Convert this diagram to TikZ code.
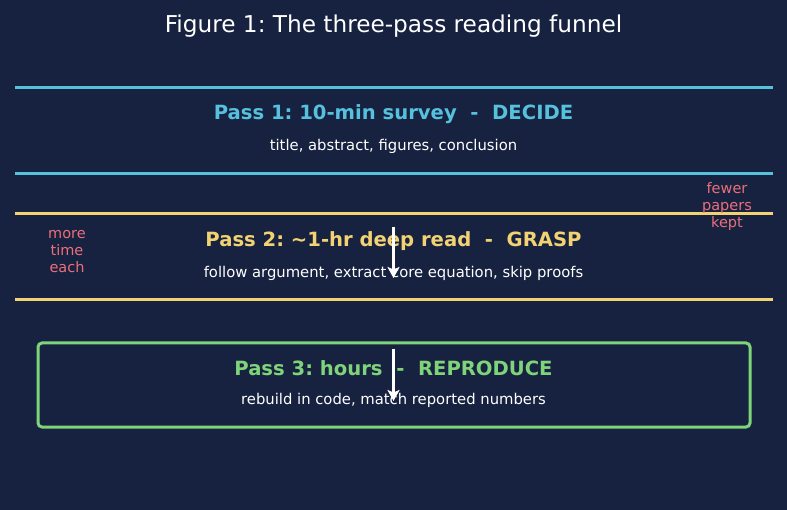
\documentclass[tikz,border=0pt]{standalone}
\usepackage{fontspec}
\setmainfont{DejaVu Sans}
\usepackage{tikz}
\usetikzlibrary{arrows.meta,positioning}
\definecolor{bgnavy}{HTML}{172240}
\definecolor{passcyan}{HTML}{56C1DD}
\definecolor{passyellow}{HTML}{F2D272}
\definecolor{passgreen}{HTML}{7FD47A}
\definecolor{notered}{HTML}{EC6F7A}
\frenchspacing

\begin{document}
\begin{tikzpicture}[x=1pt, y=-1pt, every node/.style={inner sep=0pt}]
	\tikzstyle{band} = [line width=3pt]
	\tikzstyle{head} = [font=\fontsize{19.6}{22}\selectfont\bfseries]
	\tikzstyle{sub} = [font=\fontsize{14.8}{17}\selectfont, text=white]
	\tikzstyle{note} = [font=\fontsize{14.5}{17}\selectfont, text=notered, align=center]
	\tikzstyle{line} = [draw=white, line width=3pt, -{Stealth[length=11pt,width=12pt,inset=2.5pt]}]
	\fill[bgnavy] (0,0) rectangle (787,510);
	\useasboundingbox (0,0) rectangle (787,510);
	\node[font=\fontsize{23.2}{26}\selectfont, text=white] (title) at (393.5,26) {Figure 1: The three-pass reading funnel};
	% pass 1
	\draw[band, passcyan] (15,88) -- (773,88);
	\draw[band, passcyan] (15,174) -- (773,174);
	\node[head, text=passcyan] (p1) at (393.5,114) {Pass 1: 10-min survey\ \ -\ \ DECIDE};
	\node[sub] (p1sub) at (393.5,146) {title, abstract, figures, conclusion};
	% pass 2
	\draw[band, passyellow] (15,214) -- (773,214);
	\draw[band, passyellow] (15,300) -- (773,300);
	\node[head, text=passyellow] (p2) at (393.5,241) {Pass 2: \textasciitilde1-hr deep read\ \ -\ \ GRASP};
	\node[sub] (p2sub) at (393.5,273) {follow argument, extract core equation, skip proofs};
	% pass 3
	\draw[band, passgreen, rounded corners=4pt] (38,343) rectangle (750,427);
	\node[head, text=passgreen] (p3) at (393.5,368) {Pass 3: hours\ \ -\ \ REPRODUCE};
	\node[sub] (p3sub) at (393.5,400) {rebuild in code, match reported numbers};
	% side notes
	\node[note] (more) at (67,252) {more\\time\\each};
	\node[note] (fewer) at (727,207) {fewer\\papers\\kept};
	% arrows
	\coordinate (a1) at (393.5,227);
	\coordinate (b1) at (393.5,278);
	\coordinate (a2) at (393.5,349);
	\coordinate (b2) at (393.5,401);
	\path[line] (a1) -- (b1);
	\path[line] (a2) -- (b2);
\end{tikzpicture}
\end{document}
